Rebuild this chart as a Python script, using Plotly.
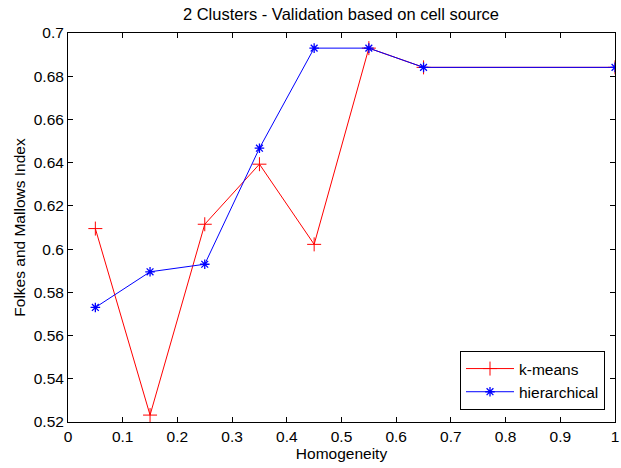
import plotly.graph_objects as go

x_kmeans = [0.05, 0.15, 0.25, 0.35, 0.45, 0.55, 0.65, 1.0]
y_kmeans = [0.6095, 0.5232, 0.6115, 0.6393, 0.6022, 0.6930, 0.6841, 0.6841]
x_hier = [0.05, 0.15, 0.25, 0.35, 0.45, 0.55, 0.65, 1.0]
y_hier = [0.5730, 0.5895, 0.5930, 0.6467, 0.6930, 0.6930, 0.6841, 0.6841]

x_ticks = [0, 0.1, 0.2, 0.3, 0.4, 0.5, 0.6, 0.7, 0.8, 0.9, 1]
x_tick_labels = ["0", "0.1", "0.2", "0.3", "0.4", "0.5", "0.6", "0.7", "0.8", "0.9", "1"]
y_ticks = [0.52, 0.54, 0.56, 0.58, 0.6, 0.62, 0.64, 0.66, 0.68, 0.7]
y_tick_labels = ["0.52", "0.54", "0.56", "0.58", "0.6", "0.62", "0.64", "0.66", "0.68", "0.7"]

font = "Liberation Sans, Arial, sans-serif"
fs = 15.5
fs_title = 16.5
fs_leg = 15.5

fig = go.Figure()
fig.add_trace(go.Scatter(
    x=x_kmeans, y=y_kmeans, name="k-means", mode="lines+markers",
    line=dict(color="#ff0000", width=1),
    marker=dict(symbol="cross-thin", size=10, color="#ff0000",
                line=dict(color="#ff0000", width=1)),
))
fig.add_trace(go.Scatter(
    x=x_hier, y=y_hier, name="hierarchical", mode="lines+markers",
    line=dict(color="#0000ff", width=1),
    marker=dict(symbol="asterisk", size=8, color="#0000ff",
                line=dict(color="#0000ff", width=1.3)),
))

axis_common = dict(
    showline=True, linecolor="black", linewidth=1, mirror="ticks",
    ticks="inside", ticklen=5, tickcolor="black", showgrid=False,
    zeroline=False, tickfont=dict(family=font, size=fs, color="black"),
)

W, H = 621, 468
L, R, T, B = 68, 6, 33, 46
PW, PH = W - L - R, H - T - B

fig.update_layout(
    width=W, height=H,
    margin=dict(l=L, r=R, t=T, b=B, autoexpand=False),
    paper_bgcolor="white", plot_bgcolor="white",
    title=dict(text="2 Clusters - Validation based on cell source",
               x=341 / W, xanchor="center", y=1 - 14 / H, yanchor="middle",
               font=dict(family=font, size=fs_title, color="black")),
    xaxis=dict(range=[0, 1], tickvals=x_ticks, ticktext=x_tick_labels,
               title=dict(text="Homogeneity", font=dict(family=font, size=fs, color="black"), standoff=0),
               **axis_common),
    yaxis=dict(range=[0.52, 0.7], tickvals=y_ticks, ticktext=y_tick_labels,
               title=dict(text="Folkes and Mallows Index", font=dict(family=font, size=fs, color="black"), standoff=4),
               **axis_common),
    legend=dict(x=1 - 10 / PW, y=12 / PH, xanchor="right", yanchor="bottom",
                bgcolor="white", bordercolor="black", borderwidth=1,
                font=dict(family=font, size=fs_leg, color="black"),
                tracegroupgap=0, itemwidth=48),
    showlegend=True,
)

fig.write_html(
    "out.html",
    config={"displayModeBar": False},
    post_script=(
        "document.documentElement.style.margin='0';"
        "document.documentElement.style.overflow='hidden';"
        "document.body.style.margin='0';"
        "document.body.style.overflow='hidden';"
    ),
)
